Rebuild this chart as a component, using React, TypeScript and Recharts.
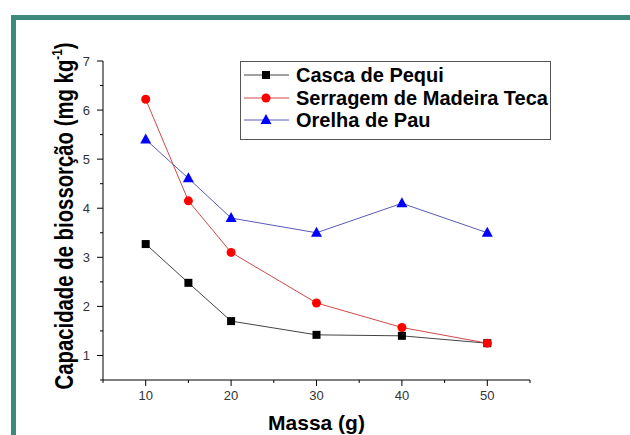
import React from "react";
import {
  LineChart,
  Line,
  XAxis,
  YAxis,
  Legend,
  Label,
} from "recharts";

// massa (g) vs capacidade de biossorção (mg kg-1)
const massa = [10, 15, 20, 30, 40, 50];
const cascaPequi = [3.27, 2.48, 1.7, 1.42, 1.4, 1.25];
const serragemTeca = [6.22, 4.15, 3.1, 2.07, 1.57, 1.25];
const orelhaPau = [5.4, 4.61, 3.8, 3.5, 4.1, 3.5];

const xTicks = [5, 10, 15, 20, 25, 30, 35, 40, 45, 50, 55];
const yTicks = [0.5, 1, 1.5, 2, 2.5, 3, 3.5, 4, 4.5, 5, 5.5, 6, 6.5, 7];

const series = [
  { key: "casca", name: "Casca de Pequi", line: "#444", mark: "#000", shape: "square" },
  { key: "serragem", name: "Serragem de Madeira Teca", line: "#d04848", mark: "#ff0000", shape: "circle" },
  { key: "orelha", name: "Orelha de Pau", line: "#5a5ab8", mark: "#0000ff", shape: "triangle" },
];

const data = massa.map((m, i) => ({
  massa: m,
  casca: cascaPequi[i],
  serragem: serragemTeca[i],
  orelha: orelhaPau[i],
}));

const FONT = "'Liberation Sans', Arial, sans-serif";

function Marker({ shape, color, cx, cy }: { shape: string; color: string; cx: number; cy: number }) {
  if (shape === "square") {
    return <rect x={cx - 4} y={cy - 4} width={8} height={8} fill={color} />;
  }
  if (shape === "circle") {
    return <circle cx={cx} cy={cy} r={4.5} fill={color} />;
  }
  return (
    <polygon
      points={`${cx},${cy - 6} ${cx + 5.5},${cy + 4} ${cx - 5.5},${cy + 4}`}
      fill={color}
    />
  );
}

const YTick = (props: any) => {
  const { x, y, payload } = props;
  const major = Number.isInteger(payload.value);
  return (
    <g>
      <line x1={x} x2={x - (major ? 6 : 3)} y1={y} y2={y} stroke="#000" />
      {major && (
        <text x={x - 13} y={y + 4.5} textAnchor="end" fontSize={13} fill="#333" fontFamily={FONT}>
          {payload.value}
        </text>
      )}
    </g>
  );
};

const XTick = (props: any) => {
  const { x, y, payload } = props;
  const major = payload.value % 10 === 0;
  return (
    <g>
      <line x1={x} x2={x} y1={y} y2={y + (major ? 6 : 3)} stroke="#000" />
      {major && (
        <text x={x} y={y + 20} textAnchor="middle" fontSize={13} fill="#333" fontFamily={FONT}>
          {payload.value}
        </text>
      )}
    </g>
  );
};

const LegendBox = () => (
  <div
    style={{
      position: "relative",
      width: 309,
      height: 77,
      border: "1px solid #555",
      background: "#fff",
      fontFamily: FONT,
      fontWeight: "bold",
      fontSize: 20,
      color: "#000",
      boxSizing: "content-box",
      textAlign: "left",
    }}
  >
    {series.map((s, i) => (
      <div key={s.key} style={{ position: "absolute", left: 2, top: 2 + i * 22.5, height: 22, display: "flex", alignItems: "center" }}>
        <svg width={50} height={22}>
          <line x1={1} x2={46} y1={11} y2={11} stroke={s.line} />
          <Marker shape={s.shape} color={s.mark} cx={23} cy={11} />
        </svg>
        <span style={{ marginLeft: 3, lineHeight: "22px", whiteSpace: "nowrap" }}>{s.name}</span>
      </div>
    ))}
  </div>
);

const YTitle = (props: any) => {
  const { viewBox } = props;
  const cx = viewBox.x + 73;
  const cy = 216;
  return (
    <text
      x={cx}
      y={cy}
      transform={`rotate(-90, ${cx}, ${cy})`}
      textAnchor="middle"
      fontFamily={FONT}
      fontWeight="bold"
      fontSize={26}
      fill="#000"
      textLength={347}
      lengthAdjust="spacingAndGlyphs"
    >
      Capacidade de biossorção (mg kg
      <tspan fontSize={15} dy={-11}>-1</tspan>
      <tspan dy={11}>)</tspan>
    </text>
  );
};

const XTitle = (props: any) => {
  const { viewBox } = props;
  return (
    <text
      x={viewBox.x + viewBox.width / 2}
      y={viewBox.y + 50}
      textAnchor="middle"
      fontFamily={FONT}
      fontWeight="bold"
      fontSize={21}
      fill="#000"
    >
      Massa (g)
    </text>
  );
};

export default function App() {
  return (
    <div style={{ position: "absolute", left: 0, top: 0, width: 630, height: 435, background: "#fff" }}>
      <div
        style={{
          position: "absolute",
          left: 11,
          top: 15,
          right: 0,
          bottom: 0,
          borderTop: "5px solid #3d8a7a",
          borderLeft: "5px solid #3d8a7a",
        }}
      />
      <div style={{ position: "absolute", left: 0, top: 0 }}>
        <LineChart
          width={630}
          height={435}
          data={data}
          margin={{ top: 61, right: 100, bottom: 5, left: 0 }}
        >
          <XAxis
            dataKey="massa"
            type="number"
            domain={[5, 55]}
            ticks={xTicks}
            interval={0}
            allowDataOverflow
            height={50}
            tickSize={0}
            tickMargin={0}
            tickLine={false}
            tick={<XTick />}
            axisLine={{ stroke: "#000" }}
          >
            <Label content={<XTitle />} />
          </XAxis>
          <YAxis
            type="number"
            domain={[0.5, 7]}
            ticks={yTicks}
            interval={0}
            allowDataOverflow
            width={103}
            tickSize={0}
            tickMargin={0}
            tickLine={false}
            tick={<YTick />}
            axisLine={{ stroke: "#000" }}
          >
            <Label content={<YTitle />} />
          </YAxis>
          <Legend
            layout="horizontal"
            verticalAlign="middle"
            align="center"
            content={<LegendBox />}
            wrapperStyle={{ position: "absolute", left: 240, top: 61, width: 311, height: 79 }}
          />
          {series.map((s) => (
            <Line
              key={s.key}
              dataKey={s.key}
              name={s.name}
              stroke={s.line}
              strokeWidth={1}
              isAnimationActive={false}
              dot={(p: any) => (
                <Marker key={`${s.key}-${p.index}`} shape={s.shape} color={s.mark} cx={p.cx} cy={p.cy} />
              )}
              activeDot={false}
            />
          ))}
        </LineChart>
      </div>
    </div>
  );
}
